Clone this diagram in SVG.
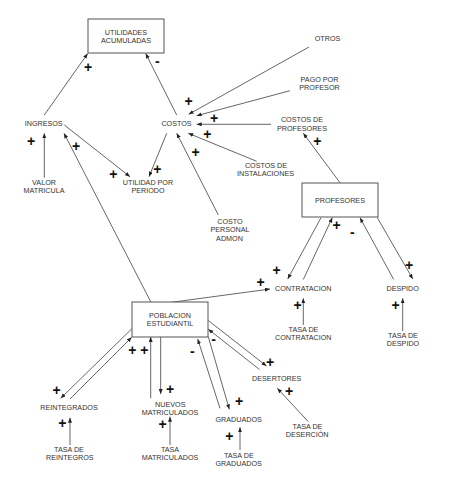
<svg xmlns="http://www.w3.org/2000/svg" width="457" height="486" viewBox="0 0 457 486">
<style>
text{font-family:"Liberation Sans",Arial,sans-serif;font-size:7.2px;fill:#333;text-anchor:middle}
.box{fill:#fff;stroke:#555;stroke-width:1}
.c line{stroke:#555;stroke-width:0.9;fill:none}
.s text{font-size:14px;font-weight:bold;fill:#111}
</style>
<defs>
<marker id="ah" markerUnits="userSpaceOnUse" markerWidth="6" markerHeight="5" refX="5" refY="2" orient="auto">
<path d="M0,0 L5,2 L0,4 z" fill="#222"/>
</marker>
</defs>
<rect width="457" height="486" fill="#fff"/>
<g class="c" marker-end="url(#ah)">
<line x1="44.3" y1="115" x2="87.7" y2="53.5" marker-end="url(#ah)"/>
<line x1="176.7" y1="115" x2="145.7" y2="53.5" marker-end="url(#ah)"/>
<line x1="44.3" y1="177.7" x2="44.3" y2="133.3" marker-end="url(#ah)"/>
<line x1="64.3" y1="125" x2="130" y2="176.7" marker-end="url(#ah)"/>
<line x1="166.7" y1="133.3" x2="149" y2="176.7" marker-end="url(#ah)"/>
<line x1="151" y1="302.3" x2="64" y2="133.3" marker-end="url(#ah)"/>
<line x1="309" y1="47" x2="188.7" y2="114.3" marker-end="url(#ah)"/>
<line x1="290" y1="90.7" x2="196.7" y2="115.7" marker-end="url(#ah)"/>
<line x1="271" y1="124.3" x2="196.7" y2="124.3" marker-end="url(#ah)"/>
<line x1="256.7" y1="161.3" x2="188.3" y2="133.3" marker-end="url(#ah)"/>
<line x1="218.3" y1="215" x2="176.7" y2="133.3" marker-end="url(#ah)"/>
<line x1="340" y1="182.7" x2="303.3" y2="133.3" marker-end="url(#ah)"/>
<line x1="321" y1="217.7" x2="287.7" y2="279" marker-end="url(#ah)"/>
<line x1="303.3" y1="279.5" x2="332.3" y2="217.7" marker-end="url(#ah)"/>
<line x1="393.7" y1="279.5" x2="360" y2="217.7" marker-end="url(#ah)"/>
<line x1="377.3" y1="217.7" x2="412.8" y2="279" marker-end="url(#ah)"/>
<line x1="171.7" y1="302.3" x2="270" y2="289" marker-end="url(#ah)"/>
<line x1="303.3" y1="325" x2="303.3" y2="298.3" marker-end="url(#ah)"/>
<line x1="402.7" y1="331" x2="402.7" y2="298.3" marker-end="url(#ah)"/>
<line x1="308.3" y1="421.7" x2="277.3" y2="388.3" marker-end="url(#ah)"/>
<line x1="208.3" y1="320.5" x2="266.5" y2="366" marker-end="url(#ah)"/>
<line x1="259.5" y1="369.5" x2="208.3" y2="329.2" marker-end="url(#ah)"/>
<line x1="208.3" y1="336.7" x2="229.3" y2="409.3" marker-end="url(#ah)"/>
<line x1="220" y1="408.3" x2="197.7" y2="339" marker-end="url(#ah)"/>
<line x1="240" y1="450" x2="240" y2="427.3" marker-end="url(#ah)"/>
<line x1="150.7" y1="398.3" x2="150.7" y2="337" marker-end="url(#ah)"/>
<line x1="160.7" y1="337" x2="160.7" y2="394" marker-end="url(#ah)"/>
<line x1="132.3" y1="328.3" x2="60.7" y2="398.3" marker-end="url(#ah)"/>
<line x1="70" y1="399" x2="131.7" y2="337.3" marker-end="url(#ah)"/>
<line x1="70" y1="445" x2="70" y2="417.7" marker-end="url(#ah)"/>
<line x1="170" y1="445" x2="170" y2="416.7" marker-end="url(#ah)"/>
</g>
<g id="utilidades_acumuladas"><rect class="box" x="88" y="19" width="76" height="34"/><text x="126" y="34.5">UTILIDADES</text><text x="126" y="43">ACUMULADAS</text></g>
<g id="profesores"><rect class="box" x="302" y="183" width="76" height="34"/><text x="340" y="202.7">PROFESORES</text></g>
<g id="poblacion_estudiantil"><rect class="box" x="132" y="302" width="76" height="35"/><text x="170" y="317.7">POBLACION</text><text x="170" y="326.3">ESTUDIANTIL</text></g>
<g id="otros"><text x="327.5" y="41">OTROS</text></g>
<g id="pago_por_profesor"><text x="319.5" y="81.5">PAGO POR</text><text x="319.5" y="90">PROFESOR</text></g>
<g id="costos_de_profesores"><text x="302" y="122.3">COSTOS DE</text><text x="302" y="130.7">PROFESORES</text></g>
<g id="ingresos"><text x="43.7" y="126.3">INGRESOS</text></g>
<g id="costos"><text x="176.5" y="126.3">COSTOS</text></g>
<g id="costos_de_instalaciones"><text x="266" y="167.7">COSTOS DE</text><text x="265.5" y="176">INSTALACIONES</text></g>
<g id="valor_matricula"><text x="44" y="185">VALOR</text><text x="44" y="193.3">MATRICULA</text></g>
<g id="utilidad_por_periodo"><text x="148" y="185">UTILIDAD POR</text><text x="148" y="193.3">PERIODO</text></g>
<g id="costo_personal_admon"><text x="230" y="224">COSTO</text><text x="230" y="232.3">PERSONAL</text><text x="229.5" y="240.7">ADMON</text></g>
<g id="contratacion"><text x="303.3" y="291">CONTRATACION</text></g>
<g id="despido"><text x="402.7" y="291">DESPIDO</text></g>
<g id="tasa_de_contratacion"><text x="303.5" y="332">TASA DE</text><text x="303.3" y="340.3">CONTRATACION</text></g>
<g id="tasa_de_despido"><text x="403" y="338">TASA DE</text><text x="403" y="346.3">DESPIDO</text></g>
<g id="desertores"><text x="276.7" y="381">DESERTORES</text></g>
<g id="nuevos_matriculados"><text x="170.3" y="406.7">NUEVOS</text><text x="170" y="415">MATRICULADOS</text></g>
<g id="reintegrados"><text x="69" y="409.7">REINTEGRADOS</text></g>
<g id="graduados"><text x="238.7" y="421.7">GRADUADOS</text></g>
<g id="tasa_de_desercion"><text x="307.5" y="428.7">TASA DE</text><text x="307.2" y="437.3">DESERCIÓN</text></g>
<g id="tasa_de_reintegros"><text x="69" y="451.7">TASA DE</text><text x="69.8" y="460">REINTEGROS</text></g>
<g id="tasa_matriculados"><text x="170" y="451.7">TASA</text><text x="170" y="460">MATRICULADOS</text></g>
<g id="tasa_de_graduados"><text x="238.8" y="457.7">TASA DE</text><text x="238.7" y="466">GRADUADOS</text></g>
<g class="s" id="signs">
<text x="88" y="71.5">+</text>
<text x="157.3" y="65.5">-</text>
<text x="31" y="145.5">+</text>
<text x="113.3" y="179.1">+</text>
<text x="157.3" y="173.8">+</text>
<text x="76" y="150.5">+</text>
<text x="188.7" y="105.8">+</text>
<text x="214" y="122.8">+</text>
<text x="207.3" y="139.3">+</text>
<text x="195.5" y="156.8">+</text>
<text x="317.3" y="145.5">+</text>
<text x="276.7" y="275.1">+</text>
<text x="336.5" y="230.3">+</text>
<text x="352.3" y="236.8">-</text>
<text x="409.2" y="270.3">+</text>
<text x="260.7" y="287.1">+</text>
<text x="297.7" y="309.8">+</text>
<text x="395.7" y="310.3">+</text>
<text x="289" y="395.5">+</text>
<text x="270" y="366.5">+</text>
<text x="213.7" y="344.3">-</text>
<text x="239" y="405.8">+</text>
<text x="192.3" y="356.1">-</text>
<text x="229.3" y="440.5">+</text>
<text x="170" y="394.1">+</text>
<text x="132.3" y="355.3">+</text>
<text x="144.3" y="355.3">+</text>
<text x="56.7" y="394.8">+</text>
<text x="62.3" y="428.1">+</text>
<text x="162.7" y="428.8">+</text>
</g>
</svg>
